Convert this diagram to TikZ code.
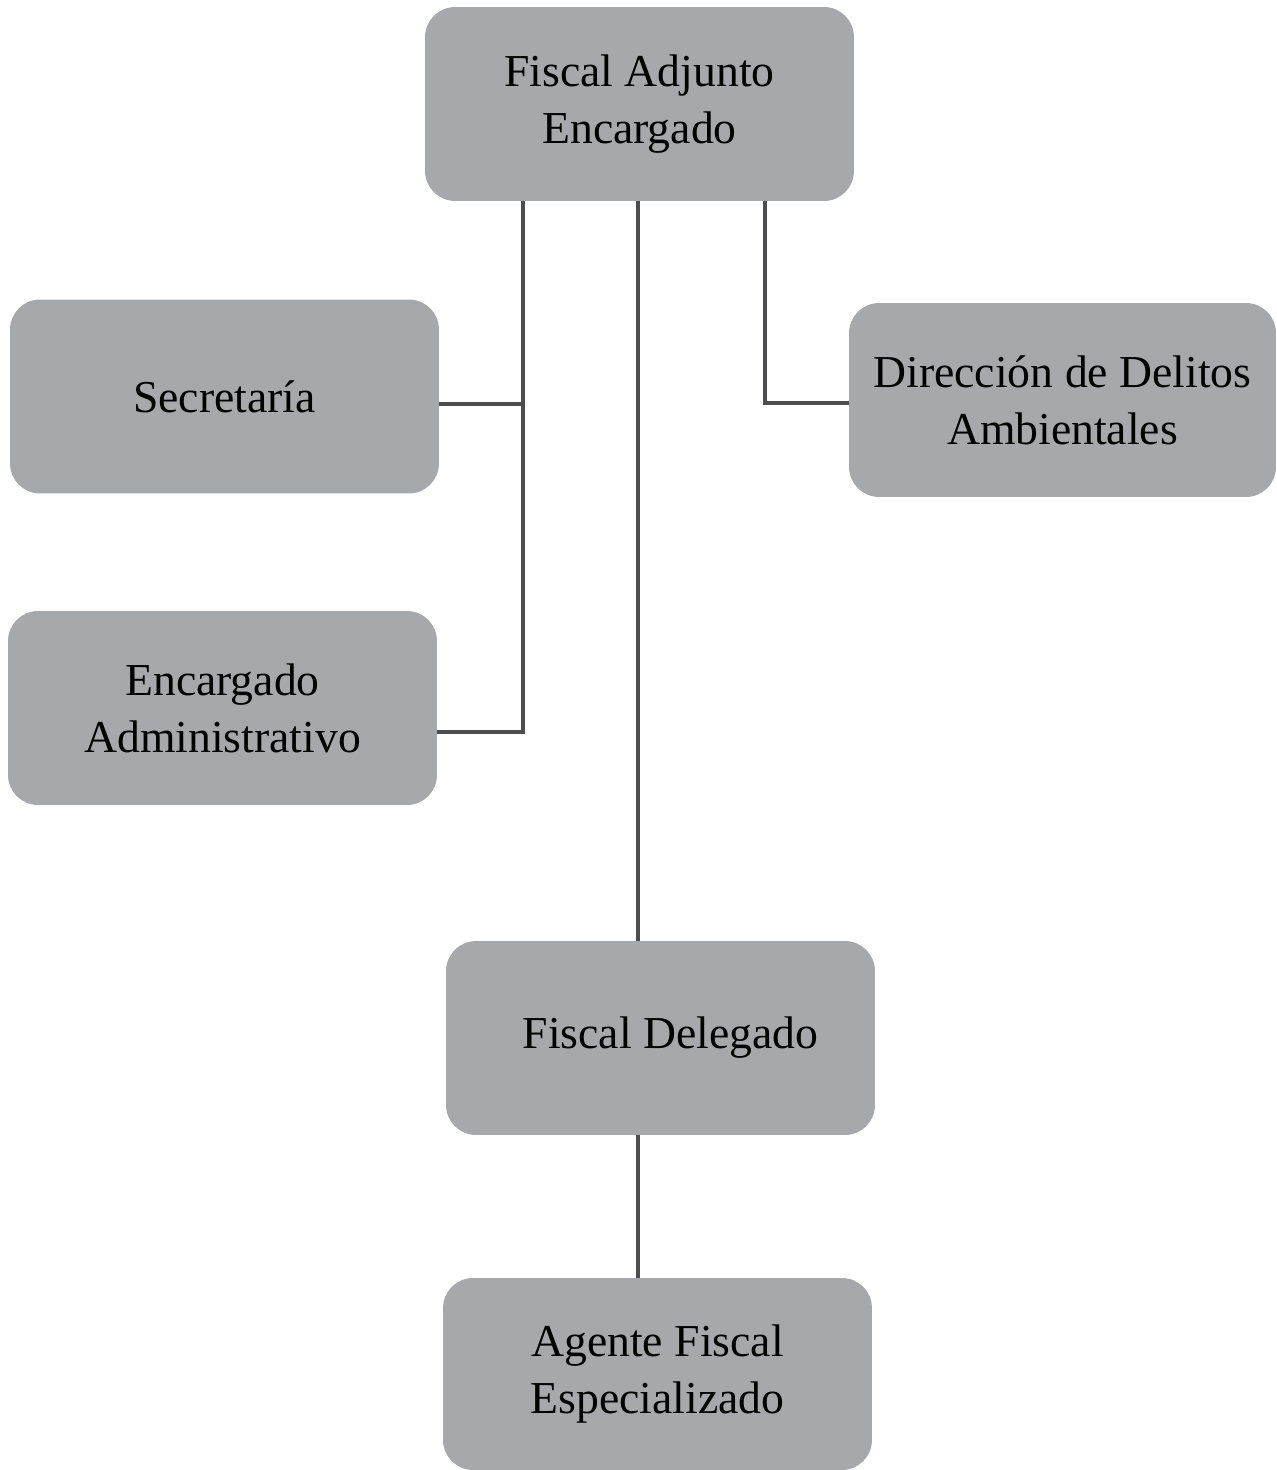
\documentclass[tikz,border=0pt]{standalone}
\usepackage{fontspec}
\setmainfont{Liberation Serif}
\definecolor{boxgray}{RGB}{167,168,172}
\definecolor{linegray}{RGB}{77,77,79}
\begin{document}
\begin{tikzpicture}[x=0.02cm,y=-0.02cm,
  orgbox/.style={fill=boxgray,draw=none,rounded corners=0.6cm,minimum width=8.58cm,minimum height=3.88cm,align=center,inner sep=0pt,font=\fontsize{26}{32.5}\selectfont},
  conn/.style={draw=linegray,line width=2.3pt}]
\useasboundingbox (0,0) rectangle (1276,1470);
\node[orgbox] (top) at (639.5,104) {Fiscal Adjunto\\Encargado};
\node[orgbox] (sec) at (224.5,396.5) {Secretaría};
\node[orgbox] (ea) at (222.5,708) {Encargado\\Administrativo};
\node[orgbox,minimum width=8.54cm] (dir) at (1062.5,400) {Dirección de Delitos\\Ambientales};
\node[orgbox] (fd) at (660.5,1038) {\hspace*{0.4cm}Fiscal Delegado};
\node[orgbox,minimum height=3.84cm] (ag) at (657.5,1374) {Agente Fiscal\\Especializado};
\draw[conn] (top.south -| 523,0) -- (523,732) -- (ea.east |- 0,732);
\draw[conn] (sec.east |- 0,404) -- (523,404);
\draw[conn] (top.south -| 638,0) -- (fd.north -| 638,0);
\draw[conn] (top.south -| 765,0) -- (765,403) -- (dir.west |- 0,403);
\draw[conn] (fd.south -| 638,0) -- (ag.north -| 638,0);
\end{tikzpicture}
\end{document}
